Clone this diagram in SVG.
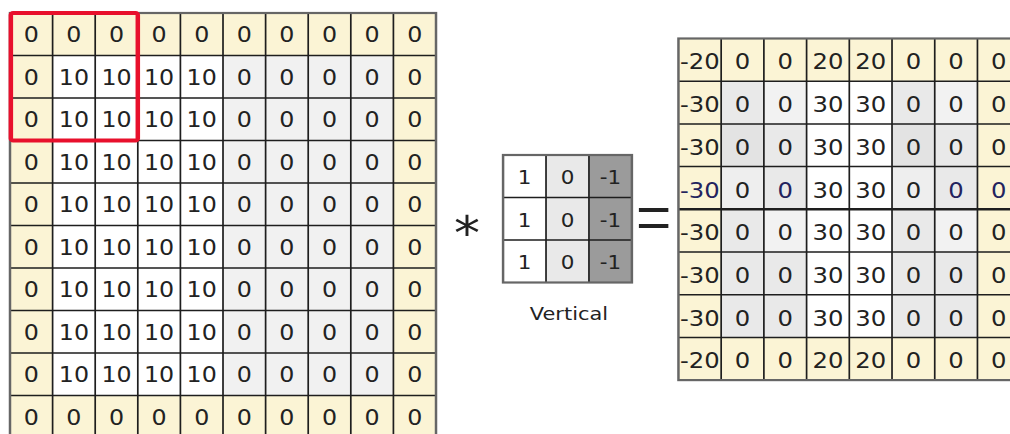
<svg xmlns="http://www.w3.org/2000/svg" width="1010" height="434" viewBox="0 0 1010 434">
  <style>
    .t{font-family:"DejaVu Sans","Liberation Sans",sans-serif;fill:#222;text-anchor:middle}
    .in{font-size:21px}
    .k{font-size:19px}
    .out{font-size:21.5px}
    .pad{fill:#fbf4d5}
    .grid{fill:none;stroke:#1e1e1e;stroke-width:1.5}
    .frame{fill:none;stroke:#666;stroke-width:2.2}
    .navy{fill:#23235e}
  </style>
  <rect width="1010" height="434" fill="#fff"/>
  <!-- everything is laid out on a 37.7-unit column pitch and widened 1.13x -->
  <g transform="scale(1.13 1)">

    <!-- 10x10 padded input image -->
    <g id="input-image">
      <rect class="pad" x="8.85" y="13" width="377" height="425"/>
      <rect x="46.55" y="55.5" width="150.8" height="340" fill="#fff"/>
      <rect x="197.35" y="55.5" width="150.8" height="340" fill="#f1f1f1"/>
      <path class="grid" d="M46.55 13V438M84.25 13V438M121.95 13V438M159.65 13V438M197.35 13V438M235.05 13V438M272.75 13V438M310.45 13V438M348.15 13V438
        M8.85 55.5H385.85M8.85 98H385.85M8.85 140.5H385.85M8.85 183H385.85M8.85 225.5H385.85M8.85 268H385.85M8.85 310.5H385.85M8.85 353H385.85M8.85 395.5H385.85"/>
      <rect class="frame" x="8.85" y="13" width="377" height="425"/>
      <g class="t in">
        <text y="42.5"><tspan x="27.7">0</tspan><tspan x="65.4">0</tspan><tspan x="103.1">0</tspan><tspan x="140.8">0</tspan><tspan x="178.5">0</tspan><tspan x="216.2">0</tspan><tspan x="253.9">0</tspan><tspan x="291.6">0</tspan><tspan x="329.3">0</tspan><tspan x="367">0</tspan></text>
        <text y="85"><tspan x="27.7">0</tspan><tspan x="65.4">10</tspan><tspan x="103.1">10</tspan><tspan x="140.8">10</tspan><tspan x="178.5">10</tspan><tspan x="216.2">0</tspan><tspan x="253.9">0</tspan><tspan x="291.6">0</tspan><tspan x="329.3">0</tspan><tspan x="367">0</tspan></text>
        <text y="127.5"><tspan x="27.7">0</tspan><tspan x="65.4">10</tspan><tspan x="103.1">10</tspan><tspan x="140.8">10</tspan><tspan x="178.5">10</tspan><tspan x="216.2">0</tspan><tspan x="253.9">0</tspan><tspan x="291.6">0</tspan><tspan x="329.3">0</tspan><tspan x="367">0</tspan></text>
        <text y="170"><tspan x="27.7">0</tspan><tspan x="65.4">10</tspan><tspan x="103.1">10</tspan><tspan x="140.8">10</tspan><tspan x="178.5">10</tspan><tspan x="216.2">0</tspan><tspan x="253.9">0</tspan><tspan x="291.6">0</tspan><tspan x="329.3">0</tspan><tspan x="367">0</tspan></text>
        <text y="212.5"><tspan x="27.7">0</tspan><tspan x="65.4">10</tspan><tspan x="103.1">10</tspan><tspan x="140.8">10</tspan><tspan x="178.5">10</tspan><tspan x="216.2">0</tspan><tspan x="253.9">0</tspan><tspan x="291.6">0</tspan><tspan x="329.3">0</tspan><tspan x="367">0</tspan></text>
        <text y="255"><tspan x="27.7">0</tspan><tspan x="65.4">10</tspan><tspan x="103.1">10</tspan><tspan x="140.8">10</tspan><tspan x="178.5">10</tspan><tspan x="216.2">0</tspan><tspan x="253.9">0</tspan><tspan x="291.6">0</tspan><tspan x="329.3">0</tspan><tspan x="367">0</tspan></text>
        <text y="297.5"><tspan x="27.7">0</tspan><tspan x="65.4">10</tspan><tspan x="103.1">10</tspan><tspan x="140.8">10</tspan><tspan x="178.5">10</tspan><tspan x="216.2">0</tspan><tspan x="253.9">0</tspan><tspan x="291.6">0</tspan><tspan x="329.3">0</tspan><tspan x="367">0</tspan></text>
        <text y="340"><tspan x="27.7">0</tspan><tspan x="65.4">10</tspan><tspan x="103.1">10</tspan><tspan x="140.8">10</tspan><tspan x="178.5">10</tspan><tspan x="216.2">0</tspan><tspan x="253.9">0</tspan><tspan x="291.6">0</tspan><tspan x="329.3">0</tspan><tspan x="367">0</tspan></text>
        <text y="382.5"><tspan x="27.7">0</tspan><tspan x="65.4">10</tspan><tspan x="103.1">10</tspan><tspan x="140.8">10</tspan><tspan x="178.5">10</tspan><tspan x="216.2">0</tspan><tspan x="253.9">0</tspan><tspan x="291.6">0</tspan><tspan x="329.3">0</tspan><tspan x="367">0</tspan></text>
        <text y="425"><tspan x="27.7">0</tspan><tspan x="65.4">0</tspan><tspan x="103.1">0</tspan><tspan x="140.8">0</tspan><tspan x="178.5">0</tspan><tspan x="216.2">0</tspan><tspan x="253.9">0</tspan><tspan x="291.6">0</tspan><tspan x="329.3">0</tspan><tspan x="367">0</tspan></text>
      </g>
    </g>

    <!-- 3x3 receptive field currently under the filter -->
    <g id="window">
      <rect x="9.6" y="13" width="112.35" height="127.5" rx="2" fill="none" stroke="#e8102c" stroke-width="4"/>
    </g>

    <!-- convolution operator -->
    <g id="op-conv">
      <text class="t" x="413.3" y="249" font-size="46">*</text>
    </g>

    <!-- vertical edge filter -->
    <g id="kernel">
      <rect x="445.2" y="155" width="38" height="127.5" fill="#fff"/>
      <rect x="483.2" y="155" width="38" height="127.5" fill="#e9e9e9"/>
      <rect x="521.2" y="155" width="38" height="127.5" fill="#9b9b9b"/>
      <path class="grid" d="M483.2 155V282.5M521.2 155V282.5M445.2 197.5H559.2M445.2 240H559.2"/>
      <rect class="frame" x="445.2" y="155" width="114" height="127.5"/>
      <g class="t k">
        <text y="184.5"><tspan x="464.2">1</tspan><tspan x="502.2">0</tspan><tspan x="540.2">-1</tspan></text>
        <text y="227"><tspan x="464.2">1</tspan><tspan x="502.2">0</tspan><tspan x="540.2">-1</tspan></text>
        <text y="269.5"><tspan x="464.2">1</tspan><tspan x="502.2">0</tspan><tspan x="540.2">-1</tspan></text>
      </g>
      <text class="t" x="503.5" y="320" font-size="18.5" fill="#333">Vertical</text>
    </g>

    <!-- equals operator: thin-barred serif sign, stretched vertically -->
    <g id="op-eq">
      <text font-family="'Liberation Serif',serif" fill="#222" text-anchor="middle" font-size="56" transform="translate(578.3 244) scale(1 1.4)">=</text>
    </g>

    <!-- 8x8 output feature map -->
    <g id="output-map">
      <rect class="pad" x="600.4" y="38.5" width="302.4" height="341.6"/>
      <rect x="638.2" y="81.2" width="226.8" height="256.2" fill="#e9e9e9"/>
      <rect x="713.8" y="81.2" width="75.6" height="256.2" fill="#fff"/>
      <!-- lighter / darker shading in the flat regions -->
      <g fill="#f2f2f2">
        <rect x="676" y="81.2" width="37.8" height="42.7"/>
        <rect x="827.2" y="81.2" width="37.8" height="42.7"/>
        <rect x="676" y="209.3" width="37.8" height="42.7"/>
        <rect x="827.2" y="209.3" width="37.8" height="42.7"/>
      </g>
      <g fill="#e3e3e3">
        <rect x="638.2" y="123.9" width="37.8" height="42.7"/>
        <rect x="789.4" y="123.9" width="37.8" height="42.7"/>
      </g>
      <g fill="#eeeeee">
        <rect x="638.2" y="166.6" width="37.8" height="42.7"/>
        <rect x="789.4" y="166.6" width="37.8" height="42.7"/>
      </g>
      <path class="grid" d="M638.2 38.5V380.1M676 38.5V380.1M713.8 38.5V380.1M751.6 38.5V380.1M789.4 38.5V380.1M827.2 38.5V380.1M865 38.5V380.1
        M600.4 81.2H902.8M600.4 123.9H902.8M600.4 166.6H902.8M600.4 252H902.8M600.4 294.7H902.8M600.4 337.4H902.8"/>
      <path d="M600.4 209.3H902.8" stroke="#1e1e1e" stroke-width="2.4"/>
      <rect class="frame" x="600.4" y="38.5" width="302.4" height="341.6"/>
      <g class="t out">
        <text y="69.5"><tspan x="619.3">-20</tspan><tspan x="657.1">0</tspan><tspan x="694.9">0</tspan><tspan x="732.7">20</tspan><tspan x="770.5">20</tspan><tspan x="808.3">0</tspan><tspan x="846.1">0</tspan><tspan x="883.9">0</tspan></text>
        <text y="112.2"><tspan x="619.3">-30</tspan><tspan x="657.1">0</tspan><tspan x="694.9">0</tspan><tspan x="732.7">30</tspan><tspan x="770.5">30</tspan><tspan x="808.3">0</tspan><tspan x="846.1">0</tspan><tspan x="883.9">0</tspan></text>
        <text y="154.9"><tspan x="619.3">-30</tspan><tspan x="657.1">0</tspan><tspan x="694.9">0</tspan><tspan x="732.7">30</tspan><tspan x="770.5">30</tspan><tspan x="808.3">0</tspan><tspan x="846.1">0</tspan><tspan x="883.9">0</tspan></text>
        <text y="197.6"><tspan x="619.3" class="navy">-30</tspan><tspan x="657.1">0</tspan><tspan x="694.9" class="navy">0</tspan><tspan x="732.7">30</tspan><tspan x="770.5">30</tspan><tspan x="808.3">0</tspan><tspan x="846.1" class="navy">0</tspan><tspan x="883.9" class="navy">0</tspan></text>
        <text y="240.3"><tspan x="619.3">-30</tspan><tspan x="657.1">0</tspan><tspan x="694.9">0</tspan><tspan x="732.7">30</tspan><tspan x="770.5">30</tspan><tspan x="808.3">0</tspan><tspan x="846.1">0</tspan><tspan x="883.9">0</tspan></text>
        <text y="283"><tspan x="619.3">-30</tspan><tspan x="657.1">0</tspan><tspan x="694.9">0</tspan><tspan x="732.7">30</tspan><tspan x="770.5">30</tspan><tspan x="808.3">0</tspan><tspan x="846.1">0</tspan><tspan x="883.9">0</tspan></text>
        <text y="325.7"><tspan x="619.3">-30</tspan><tspan x="657.1">0</tspan><tspan x="694.9">0</tspan><tspan x="732.7">30</tspan><tspan x="770.5">30</tspan><tspan x="808.3">0</tspan><tspan x="846.1">0</tspan><tspan x="883.9">0</tspan></text>
        <text y="368.4"><tspan x="619.3">-20</tspan><tspan x="657.1">0</tspan><tspan x="694.9">0</tspan><tspan x="732.7">20</tspan><tspan x="770.5">20</tspan><tspan x="808.3">0</tspan><tspan x="846.1">0</tspan><tspan x="883.9">0</tspan></text>
      </g>
    </g>
  </g>
</svg>
